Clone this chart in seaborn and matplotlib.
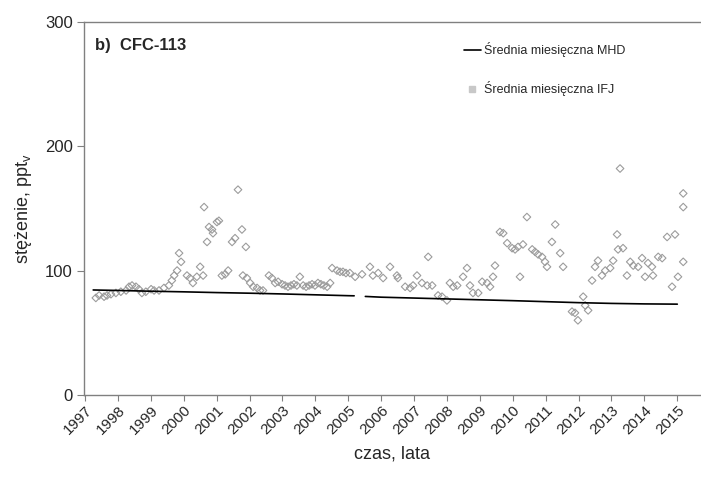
import numpy as np
import pandas as pd
import matplotlib
matplotlib.use("Agg")
import matplotlib.pyplot as plt
from matplotlib.lines import Line2D
import seaborn as sns

# Monthly mean CFC-113 at Mace Head (MHD), two segments around the data gap
mhd_year = [1997.25, 1998.0, 1999.0, 2000.0, 2001.0, 2002.0, 2003.0, 2004.0, 2005.0, 2005.18,
            2005.52, 2006.0, 2007.0, 2008.0, 2009.0, 2010.0, 2011.0, 2012.0, 2013.0, 2014.0, 2015.0]
mhd_value = [84.4, 84.0, 83.4, 82.9, 82.3, 81.8, 81.2, 80.5, 79.8, 79.7,
             79.2, 78.6, 77.9, 77.2, 76.5, 75.8, 75.0, 74.2, 73.6, 73.2, 73.0]
mhd_segment = [0] * 10 + [1] * 11

# Monthly mean CFC-113 measured at IFJ (Kraków)
ifj_year = [1997.33, 1997.43, 1997.58, 1997.67, 1997.79, 1997.94, 1998.09, 1998.25, 1998.34, 1998.43,
            1998.55, 1998.64, 1998.73, 1998.85, 1999.01, 1999.10, 1999.25, 1999.40, 1999.55, 1999.64,
            1999.71, 1999.80, 1999.86, 1999.92, 2000.10, 2000.19, 2000.28, 2000.40, 2000.50, 2000.59,
            2000.62, 2000.71, 2000.77, 2000.86, 2000.89, 2001.01, 2001.07, 2001.16, 2001.26, 2001.35,
            2001.47, 2001.56, 2001.65, 2001.77, 2001.80, 2001.89, 2001.92, 2002.02, 2002.11, 2002.23,
            2002.32, 2002.41, 2002.59, 2002.68, 2002.78, 2002.87, 2002.99, 2003.08, 2003.17, 2003.26,
            2003.35, 2003.44, 2003.53, 2003.63, 2003.72, 2003.81, 2003.90, 2003.99, 2004.08, 2004.17,
            2004.26, 2004.36, 2004.45, 2004.51, 2004.66, 2004.75, 2004.84, 2004.93, 2005.05, 2005.21,
            2005.42, 2005.66, 2005.75, 2005.91, 2006.06, 2006.27, 2006.48, 2006.51, 2006.73, 2006.88,
            2006.97, 2007.09, 2007.24, 2007.40, 2007.43, 2007.55, 2007.73, 2007.85, 2008.00, 2008.09,
            2008.19, 2008.31, 2008.49, 2008.61, 2008.70, 2008.79, 2008.95, 2009.07, 2009.22, 2009.31,
            2009.40, 2009.46, 2009.61, 2009.71, 2009.83, 2009.98, 2010.07, 2010.16, 2010.22, 2010.31,
            2010.43, 2010.59, 2010.68, 2010.77, 2010.89, 2010.98, 2011.04, 2011.19, 2011.29, 2011.44,
            2011.53, 2011.80, 2011.89, 2011.98, 2012.14, 2012.20, 2012.29, 2012.41, 2012.50, 2012.59,
            2012.71, 2012.81, 2012.96, 2013.05, 2013.17, 2013.20, 2013.26, 2013.35, 2013.47, 2013.57,
            2013.66, 2013.81, 2013.93, 2014.02, 2014.11, 2014.23, 2014.26, 2014.42, 2014.54, 2014.69,
            2014.84, 2014.93, 2015.02, 2015.18, 2015.18, 2015.18]
ifj_value = [78, 80, 79, 80, 81, 82, 83, 84, 87, 88,
             87, 85, 82, 83, 85, 84, 84, 86, 88, 92,
             96, 100, 114, 107, 96, 94, 90, 95, 103, 96,
             151, 123, 135, 133, 130, 139, 140, 96, 97, 100,
             123, 126, 165, 133, 96, 119, 94, 90, 87, 86,
             84, 84, 96, 94, 90, 91, 89, 88, 87, 88,
             89, 88, 95, 88, 87, 88, 89, 88, 90, 89,
             88, 87, 90, 102, 100, 99, 99, 98, 98, 95,
             97, 103, 96, 98, 94, 103, 96, 94, 87, 86,
             88, 96, 90, 88, 111, 88, 80, 79, 76, 90,
             87, 88, 95, 102, 88, 82, 82, 91, 90, 87,
             95, 104, 131, 130, 122, 118, 117, 119, 95, 121,
             143, 117, 115, 113, 111, 107, 103, 123, 137, 114,
             103, 67, 66, 60, 79, 72, 68, 92, 103, 108,
             96, 100, 102, 108, 129, 117, 182, 118, 96, 107,
             104, 103, 110, 95, 106, 103, 96, 111, 110, 127,
             87, 129, 95, 107, 151, 162]

year_ticks = list(range(1997, 2016))

mhd = pd.DataFrame({"rok": mhd_year, "stezenie": mhd_value, "odcinek": mhd_segment})
ifj = pd.DataFrame({"rok": ifj_year, "stezenie": ifj_value})

sns.set_style("white")
plt.rcParams["font.family"] = ["Liberation Sans", "DejaVu Sans"]
plt.rcParams["mathtext.fontset"] = "custom"
plt.rcParams["mathtext.rm"] = "Liberation Sans"

fig = plt.figure(figsize=(7.01, 4.79), dpi=100)
ax = fig.add_axes([0.1198, 0.1754, 0.8802, 0.7793])

sns.scatterplot(data=ifj, x="rok", y="stezenie", ax=ax, marker="D", s=15,
                facecolor="none", edgecolor="#9c9c9c", linewidth=0.8, legend=False, zorder=2)
sns.lineplot(data=mhd, x="rok", y="stezenie", units="odcinek", estimator=None,
             ax=ax, color="black", linewidth=1.2, legend=False, zorder=3)

ax.set_xlim(1996.97, 2015.72)
ax.set_ylim(0, 300)
ax.set_yticks([0, 100, 200, 300])
ax.set_xticks(year_ticks)
ax.set_xticklabels([str(y) for y in year_ticks], rotation=45, ha="right",
                   rotation_mode="anchor", fontsize=11)
ax.tick_params(axis="y", labelsize=12, length=5, width=0.8, color="#808080",
               direction="out", left=True, pad=3)
ax.tick_params(axis="x", length=4, width=0.8, color="#808080", direction="out",
               bottom=True, pad=2)

for side in ("left", "bottom", "top"):
    ax.spines[side].set_color("#808080")
    ax.spines[side].set_linewidth(1.0)
ax.spines["right"].set_visible(False)

ax.set_xlabel("czas, lata", fontsize=13, labelpad=6)
ax.set_ylabel(r"stężenie, ppt$_\mathregular{v}$", fontsize=13, labelpad=8)

ax.text(0.018, 0.937, "b)  CFC-113", transform=ax.transAxes, fontsize=12,
        fontweight="bold", ha="left", va="center")

handles = [
    Line2D([], [], color="black", linewidth=1.2),
    Line2D([], [], linestyle="none", marker="s", markersize=4,
           markerfacecolor="#c8c8c8", markeredgecolor="#c8c8c8"),
]
ax.legend(handles, ["Średnia miesięczna MHD", "Średnia miesięczna IFJ"],
          loc="upper left", bbox_to_anchor=(0.597, 0.975), frameon=False,
          fontsize=9, labelspacing=1.9, handlelength=1.4, handletextpad=0.2)

fig.savefig("out.png", dpi=100)
